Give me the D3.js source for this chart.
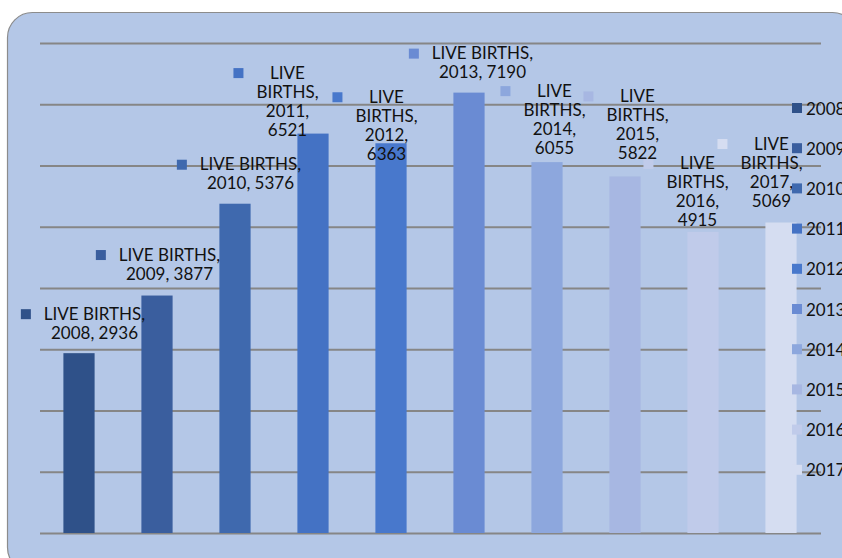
<!DOCTYPE html>
<html>
<head>
<meta charset="utf-8">
<script src="https://cdn.jsdelivr.net/npm/d3@7"></script>
<style>
  body { margin: 0; background: #fff; }
  svg text { font-family: Lato, "Open Sans", sans-serif; fill: #111; }
</style>
</head>
<body>
<div id="Canvas"></div>
<script>
// 資料
const seriesName = "LIVE BIRTHS"
const years = ["2008", "2009", "2010", "2011", "2012", "2013", "2014", "2015", "2016", "2017"]
const births = [2936, 3877, 5376, 6521, 6363, 7190, 6055, 5822, 4915, 5069]
const barColors = ["#2f5189", "#3a5e9e", "#3f69ae", "#4472c4", "#4878cc", "#6a8bd3", "#8da7dd", "#a7b7e2", "#c0cbea", "#d5ddf1"]
const yTicks = [0, 1000, 2000, 3000, 4000, 5000, 6000, 7000, 8000]
// 哪些標籤被擠成四行
const narrowLabel = [false, false, false, true, true, false, true, true, true, true]

// 標籤微調 (Excel 裡手動拖過的位置)
const nudgeX = [4, 1, 4, -37, -16, 2, -4, 1, -17, -21]
const nudgeY = [0, -1.5, 0, 16.5, 31, 0, 6, -3, 9, -1.5]

const W = 842, H = 558
let svg = d3.select("#Canvas")
    .append("svg")
    .attr("width", W)
    .attr("height", H)

// 背景圓角框
svg.append("rect")
    .attr("x", 7.5).attr("y", 12.5)
    .attr("width", 850).attr("height", 560)
    .attr("rx", 25).attr("ry", 25)
    .attr("fill", "#b4c7e7")
    .attr("stroke", "#8c8c8c")
    .attr("stroke-width", 1.2)

let data = years.map((y, i) => ({ year: y, value: births[i], color: barColors[i], narrow: narrowLabel[i], i: i }))

let xScale = d3.scaleBand()
    .domain(years)
    .range([40, 820])
    .paddingInner(0.6)
    .paddingOuter(0.3)
let yScale = d3.scaleLinear()
    .domain([0, 8000])
    .range([533, 43])

// 格線
let grid = svg.append("g")
    .attr("transform", "translate(40,0)")
    .call(d3.axisLeft(yScale).tickValues(yTicks).tickSize(-781).tickFormat(""))
grid.select(".domain").remove()
grid.selectAll(".tick line")
    .attr("stroke", "#868686")
    .attr("stroke-width", 2)

// 長條
svg.append("g")
    .selectAll("rect")
    .data(data)
    .enter()
    .append("rect")
    .attr("x", d => xScale(d.year))
    .attr("y", d => yScale(d.value))
    .attr("width", xScale.bandwidth())
    .attr("height", d => yScale(0) - yScale(d.value))
    .attr("fill", d => d.color)

// 資料標籤
const lh = 19, gap = 13, key = 10
let labels = svg.append("g")
    .selectAll("g")
    .data(data)
    .enter()
    .append("g")
    .each(function(d) {
        let lines = d.narrow
            ? ["LIVE", "BIRTHS,", d.year + ",", String(d.value)]
            : [seriesName + ",", d.year + ", " + d.value]
        let cx = xScale(d.year) + xScale.bandwidth() / 2 + (key + gap) / 2 + nudgeX[d.i]
        let lastY = yScale(d.value) - 21 + nudgeY[d.i]
        let firstY = lastY - (lines.length - 1) * lh
        let g = d3.select(this)
        let maxW = 0
        lines.forEach((t, k) => {
            let txt = g.append("text")
                .attr("x", cx)
                .attr("y", firstY + k * lh)
                .attr("text-anchor", "middle")
                .attr("dominant-baseline", "central")
                .style("font-size", "17px")
                .text(t)
            maxW = Math.max(maxW, txt.node().getComputedTextLength())
        })
        g.insert("rect", "text")
            .attr("x", cx - maxW / 2 - gap - key)
            .attr("y", firstY - key / 2 + 1)
            .attr("width", key)
            .attr("height", key)
            .attr("fill", d.color)
    })

// 圖例
let legend = svg.append("g")
    .selectAll("g")
    .data(data)
    .enter()
    .append("g")
    .attr("transform", (d, i) => `translate(792,${108 + i * 40.2})`)
legend.append("rect")
    .attr("x", 0).attr("y", -5)
    .attr("width", 10).attr("height", 10)
    .attr("fill", d => d.color)
legend.append("text")
    .attr("x", 14)
    .attr("y", 0)
    .attr("dominant-baseline", "central")
    .style("font-size", "17px")
    .text(d => d.year)
</script>
</body>
</html>
